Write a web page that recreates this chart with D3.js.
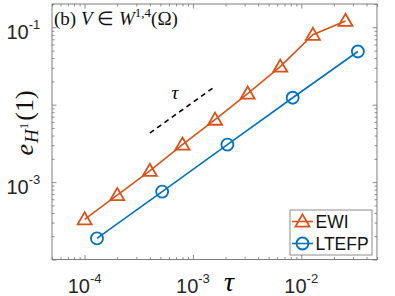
<!DOCTYPE html>
<html>
<head>
<meta charset="utf-8">
<script src="https://cdn.jsdelivr.net/npm/d3@7"></script>
<style>
body { margin: 0; background: #fff; }
svg { display: block; }
</style>
</head>
<body>
<svg width="395" height="296"></svg>
<script>
// step sizes and errors
const tauEWI = [1e-4, 2e-4, 4e-4, 8e-4, 1.6e-3, 3.2e-3, 6.4e-3, 1.28e-2, 2.56e-2];
const errEWI = [3.3e-4, 6.8e-4, 1.4e-3, 3.05e-3, 6.4e-3, 1.39e-2, 3.1e-2, 8.0e-2, 0.121];
const tauLTEFP = [1.3e-4, 5.2e-4, 2.08e-3, 8.33e-3, 3.33e-2];
const errLTEFP = [1.87e-4, 7.55e-4, 3.05e-3, 1.23e-2, 4.87e-2];
const refTau = [4e-4, 1.6e-3];
const refErr = [4.3e-3, 1.72e-2];
const xTickExp = [-4, -3, -2];
const yTickExp = [-3, -1];

const svg = d3.select('svg');
const L = 52, R = 377, T = 4, B = 259.5;

const x = d3.scaleLog().domain([5e-5, 5e-2]).range([L, R]);
const y = d3.scaleLog().domain([1e-4, 0.2]).range([B, T]);

const ORANGE = '#D95319', BLUE = '#0072BD', AX = '#707070';

// minor / major tick lists
function logTicks(lo, hi) {
  const out = [];
  for (let e = -6; e <= 0; e++) for (let m = 1; m <= 9; m++) {
    const v = m * Math.pow(10, e);
    if (v >= lo * 0.999 && v <= hi * 1.001) out.push(v);
  }
  return out;
}
const xMinor = logTicks(5e-5, 5e-2).filter(v => Math.abs(Math.log10(v) % 1) > 1e-6);
const yMinor = logTicks(1e-4, 0.2).filter(v => Math.abs(Math.log10(v) % 1) > 1e-6);
const xMajor = [1e-4, 1e-3, 1e-2];
const yMajor = [1e-4, 1e-3, 1e-2, 1e-1];

function tickAxis(axis, tr, vals, size) {
  const g = svg.append('g').attr('transform', tr)
    .call(axis.tickValues(vals).tickSize(-size).tickSizeOuter(0).tickFormat(''));
  g.select('.domain').remove();
  g.selectAll('line').attr('stroke', AX).attr('stroke-width', 0.8);
}
tickAxis(d3.axisBottom(x), `translate(0,${B})`, xMinor, 2.5);
tickAxis(d3.axisBottom(x), `translate(0,${B})`, xMajor, 4.5);
tickAxis(d3.axisTop(x), `translate(0,${T})`, xMinor, 2.5);
tickAxis(d3.axisTop(x), `translate(0,${T})`, xMajor, 4.5);
tickAxis(d3.axisLeft(y), `translate(${L},0)`, yMinor, 2.5);
tickAxis(d3.axisLeft(y), `translate(${L},0)`, yMajor, 4.5);
tickAxis(d3.axisRight(y), `translate(${R},0)`, yMinor, 2.5);
tickAxis(d3.axisRight(y), `translate(${R},0)`, yMajor, 4.5);

svg.append('rect').attr('x', L).attr('y', T).attr('width', R - L).attr('height', B - T)
  .attr('fill', 'none').attr('stroke', AX).attr('stroke-width', 0.9);

// tick labels 10^k
const sans = 'Liberation Sans, Arial, Helvetica, sans-serif';
xTickExp.forEach(e => {
  const t = svg.append('text').attr('x', x(Math.pow(10, e))).attr('y', 293)
    .attr('text-anchor', 'middle').attr('font-family', sans).attr('font-size', 20).attr('fill', '#262626');
  t.append('tspan').text('10');
  t.append('tspan').attr('dy', -10).attr('font-size', 13).text('-' + Math.abs(e));
});
yTickExp.forEach(e => {
  const t = svg.append('text').attr('x', 6.5).attr('y', y(Math.pow(10, e)) + 11.5)
    .attr('font-family', sans).attr('font-size', 20).attr('fill', '#262626');
  t.append('tspan').text('10');
  t.append('tspan').attr('dy', -10).attr('font-size', 13).text('-' + Math.abs(e));
});

const serif = 'Liberation Serif, Times New Roman, serif';
// x label tau
svg.append('text').attr('x', 229).attr('y', 291).attr('text-anchor', 'middle')
  .attr('font-family', serif).attr('font-style', 'italic').attr('font-size', 28).text('τ');

// y label
const yl = svg.append('text').attr('transform', 'translate(33,123) rotate(-90)')
  .attr('text-anchor', 'middle').attr('font-family', serif).attr('font-size', 26).attr('fill', '#111');
yl.append('tspan').attr('font-style', 'italic').text('e');
yl.append('tspan').attr('font-style', 'italic').attr('font-size', 19).attr('dy', 5).attr('dx', 1).text('H');
yl.append('tspan').attr('font-size', 13).attr('dy', -10).text('1');
yl.append('tspan').attr('dy', 5).attr('dx', 2).text('(1)');

// panel title
const tt = svg.append('text').attr('x', 54).attr('y', 25).attr('font-family', serif).attr('font-size', 19).attr('fill', '#111');
tt.append('tspan').text('(b) ');
tt.append('tspan').attr('font-style', 'italic').text('V');
tt.append('tspan').text(' ∈ ');
tt.append('tspan').attr('font-style', 'italic').text('W');
tt.append('tspan').attr('font-size', 13).attr('dy', -8).text('1,4');
tt.append('tspan').attr('dy', 8).text('(Ω)');

// reference slope
svg.append('path').datum(refTau.map((t, i) => [t, refErr[i]]))
  .attr('d', d3.line().x(d => x(d[0])).y(d => y(d[1])))
  .attr('fill', 'none').attr('stroke', '#000').attr('stroke-width', 1.6).attr('stroke-dasharray', '5,4');
svg.append('text').attr('x', 175).attr('y', 99).attr('text-anchor', 'middle')
  .attr('font-family', serif).attr('font-style', 'italic').attr('font-size', 19).text('τ');

// series
const tri = d3.symbol().type(d3.symbolTriangle).size(85);
function series(tx, ey, color, marker) {
  const pts = tx.map((t, i) => [t, ey[i]]);
  svg.append('path').datum(pts)
    .attr('d', d3.line().x(d => x(d[0])).y(d => y(d[1])))
    .attr('fill', 'none').attr('stroke', color).attr('stroke-width', 1.6);
  const g = svg.append('g').selectAll('g').data(pts).enter().append('g')
    .attr('transform', d => `translate(${x(d[0])},${y(d[1])})`);
  if (marker === 'tri') {
    g.append('path').attr('d', tri).attr('transform', 'translate(0,1)')
      .attr('fill', 'none').attr('stroke', color).attr('stroke-width', 1.8);
  } else {
    g.append('circle').attr('r', 6).attr('fill', 'none').attr('stroke', color).attr('stroke-width', 1.8);
  }
}
series(tauEWI, errEWI, ORANGE, 'tri');
series(tauLTEFP, errLTEFP, BLUE, 'circle');

// legend
const lg = svg.append('g');
lg.append('rect').attr('x', 290).attr('y', 210).attr('width', 82).attr('height', 45)
  .attr('fill', '#fff').attr('stroke', AX).attr('stroke-width', 0.8);
const items = [['EWI', ORANGE, 'tri', 221.5], ['LTEFP', BLUE, 'circle', 243.5]];
items.forEach(([name, color, m, yy]) => {
  lg.append('line').attr('x1', 292).attr('x2', 313).attr('y1', yy).attr('y2', yy)
    .attr('stroke', color).attr('stroke-width', 1.6);
  if (m === 'tri') {
    lg.append('path').attr('d', tri).attr('transform', `translate(302.5,${yy + 1})`)
      .attr('fill', 'none').attr('stroke', color).attr('stroke-width', 1.8);
  } else {
    lg.append('circle').attr('cx', 302.5).attr('cy', yy).attr('r', 6)
      .attr('fill', 'none').attr('stroke', color).attr('stroke-width', 1.8);
  }
  lg.append('text').attr('x', 315.5).attr('y', yy + 6.5).attr('font-family', sans).attr('font-size', 17.5)
    .attr('fill', '#111').text(name);
});
</script>
</body>
</html>
